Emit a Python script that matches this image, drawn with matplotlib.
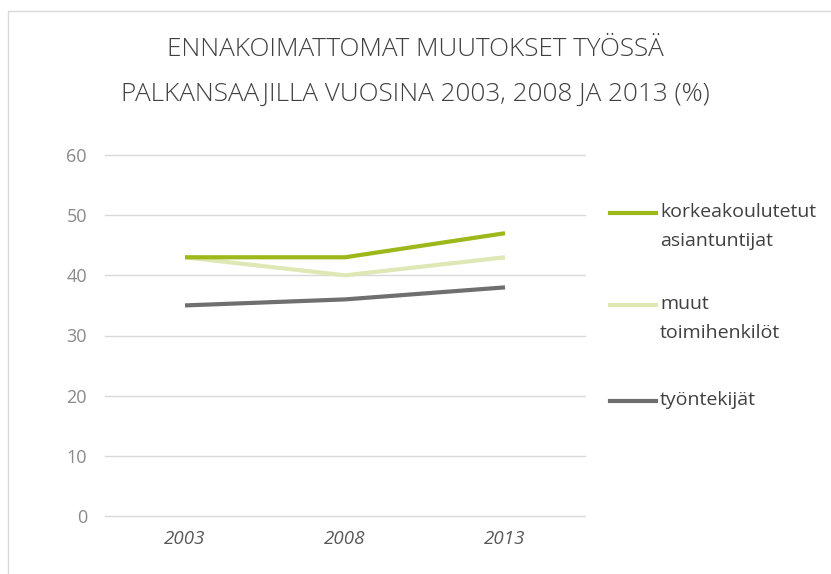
import matplotlib
matplotlib.use("Agg")
import matplotlib.pyplot as plt
from matplotlib.lines import Line2D

years = ["2003", "2008", "2013"]
series_names = ["korkeakoulutetut\nasiantuntijat", "muut\ntoimihenkilöt", "työntekijät"]
korkea = [43, 43, 47]
muut = [43, 40, 43]
tyontekijat = [35, 36, 38]
series_values = [korkea, muut, tyontekijat]
colors = ["#9cb81b", "#dde8b5", "#6f6f6f"]
yticks = [0, 10, 20, 30, 40, 50, 60]
title = "ENNAKOIMATTOMAT MUUTOKSET TYÖSSÄ\nPALKANSAAJILLA VUOSINA 2003, 2008 JA 2013 (%)"

plt.rcParams['font.family'] = ['Open Sans', 'DejaVu Sans']

W, H = 831, 574
fig = plt.figure(figsize=(W / 100, H / 100), dpi=100)
ax = fig.add_axes([105 / W, (H - 516) / H, 480 / W, (516 - 155) / H])

x = list(range(len(years)))
# draw back-to-front: työntekijät, muut, korkea
for idx in [2, 1, 0]:
    ax.plot(x, series_values[idx], color=colors[idx], lw=3, solid_capstyle='butt', zorder=3)

ax.set_xlim(-0.5, len(years) - 0.5)
ax.set_ylim(0, 60)
ax.set_yticks(yticks)
ax.set_yticklabels([str(t) for t in yticks], color="#8a8a8a", fontsize=13)
ax.set_xticks(x)
ax.set_xticklabels(years, color="#595959", fontsize=13.5, style='italic')
ax.yaxis.grid(True, color="#d9d9d9", lw=1)
for gl in ax.get_ygridlines():
    gl.set_clip_on(False)
ax.set_axisbelow(True)
for s in ax.spines.values():
    s.set_visible(False)
ax.tick_params(axis='both', length=0)
ax.tick_params(axis='y', pad=13)
ax.tick_params(axis='x', pad=10)

fig.text(415 / W, 1 - 72 / H, title, ha='center', va='center', fontsize=18.8,
         color="#404040", fontweight='light', linespacing=2.0)

# legend (manual, to match multi-line layout)
leg_y = [213, 305, 401]
for name, col, yy in zip(series_names, colors, leg_y):
    fig.add_artist(Line2D([610 / W, 656 / W], [1 - yy / H, 1 - yy / H], color=col, lw=3,
                          transform=fig.transFigure))
    fig.text(660 / W, 1 - (yy - 10) / H, name, ha='left', va='top', fontsize=14,
             color="#404040", linespacing=1.75)

# outer border
fig.add_artist(Line2D([8 / W, 8 / W, 1], [0, 1 - 11 / H, 1 - 11 / H], color="#d9d9d9", lw=1,
                      transform=fig.transFigure))

fig.savefig("out.png", dpi=100)
